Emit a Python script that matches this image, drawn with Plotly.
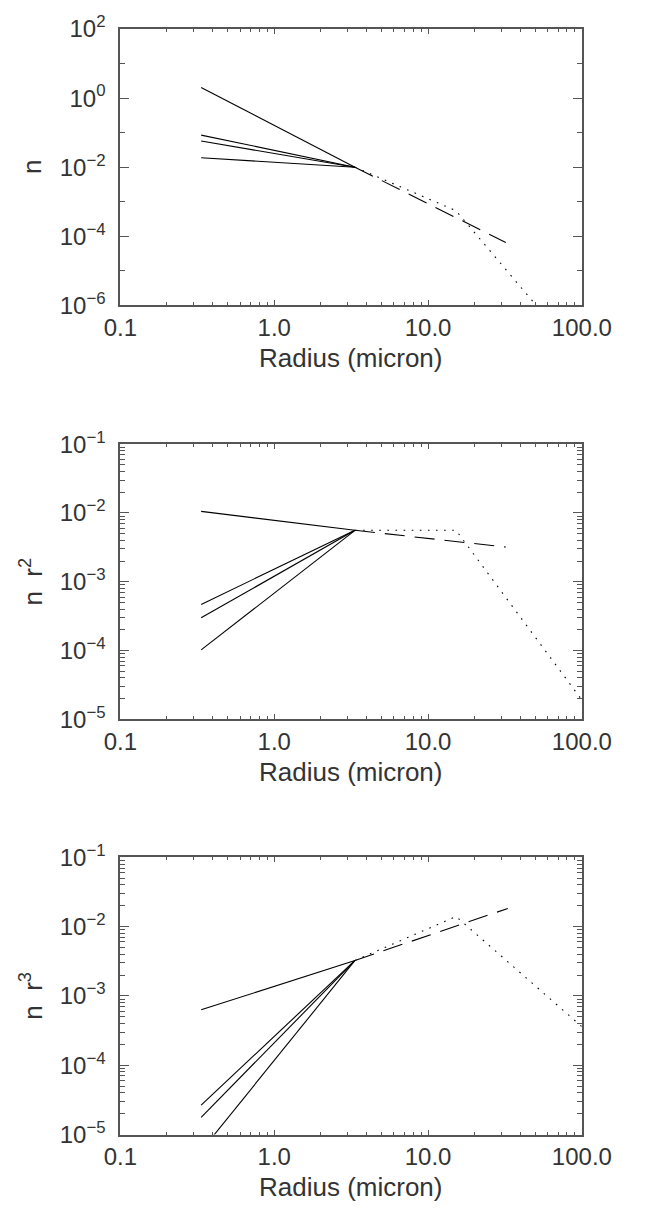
import plotly.graph_objects as go

# ---- data -------------------------------------------------------------
# radii (micron) of the segment end points
R_SOLID = [0.335, 3.35]          # small-grain power laws
R_DASH = [3.35, 32.0]            # single power law continuation
R_DOT = [3.35, 15.2, 100.0]      # broken power law

# panel 1: n
N_SOLID_START = [2.04, 0.085, 0.0575, 0.0187]
N_JUNCTION = 0.0100
N_DASH = [0.0100, 6.6e-5]
N_DOT_R = [3.35, 15.2, 50.5]
N_DOT = [0.0100, 5.5e-4, 1.0e-6]

# panel 2: n r^2
NR2_SOLID_START = [1.057e-2, 4.68e-4, 2.99e-4, 1.02e-4]
NR2_JUNCTION = 5.6e-3
NR2_DASH = [5.6e-3, 3.2e-3]
NR2_DOT = [5.6e-3, 5.6e-3, 1.9e-5]

# panel 3: n r^3
NR3_SOLID_START = [6.3e-4, 2.65e-5, 1.77e-5, 5.8e-6]
NR3_JUNCTION = 3.25e-3
NR3_DASH_R = [3.35, 33.0]
NR3_DASH = [3.25e-3, 1.83e-2]
NR3_DOT = [3.25e-3, 1.4e-2, 3.6e-4]

X_TICKS = [0.1, 1.0, 10.0, 100.0]
X_TICKTEXT = ["0.1", "1.0", "10.0", "100.0"]

# ---- styling ----------------------------------------------------------
W, H = 645, 1220
FONT = "Liberation Sans"
TXT = "#333333"
AX = "#555555"
LINE_W = 1.1
DASH_PAT = "20px,10px"
DOT_PAT = "1.6px,6.5px"
TICK_SIZE = 24
TITLE_SIZE = 26

X0, X1 = 111.5, 609.3
PANELS = [(12.3, 295.7), (438.0, 720.0), (861.5, 1145.7)]


def py(p):
    return 1 - p / H


fig = go.Figure()


def add_panel(i, solid_start, junction, dash_r, dash_v, dot_r, dot_v):
    xa = "x" if i == 0 else f"x{i + 1}"
    ya = "y" if i == 0 else f"y{i + 1}"
    for v0 in solid_start:
        fig.add_trace(go.Scatter(x=R_SOLID, y=[v0, junction], mode="lines",
                                 line=dict(color="black", width=LINE_W),
                                 xaxis=xa, yaxis=ya, showlegend=False))
    fig.add_trace(go.Scatter(x=dash_r, y=dash_v, mode="lines",
                             line=dict(color="black", width=LINE_W, dash=DASH_PAT),
                             xaxis=xa, yaxis=ya, showlegend=False))
    fig.add_trace(go.Scatter(x=dot_r, y=dot_v, mode="lines",
                             line=dict(color="black", width=LINE_W, dash=DOT_PAT),
                             xaxis=xa, yaxis=ya, showlegend=False))


add_panel(0, N_SOLID_START, N_JUNCTION, R_DASH, N_DASH, N_DOT_R, N_DOT)
add_panel(1, NR2_SOLID_START, NR2_JUNCTION, R_DASH, NR2_DASH, R_DOT, NR2_DOT)
add_panel(2, NR3_SOLID_START, NR3_JUNCTION, NR3_DASH_R, NR3_DASH, R_DOT, NR3_DOT)

x_minor = [m * 10 ** e for e in (-1, 0, 1) for m in range(2, 10)]


def sup(e):
    s = str(e).replace("-", "\u2212")
    return f"10<sup>{s}</sup>"


y_specs = [
    # (exp_lo, exp_hi, labelled every, minor decade digits)
    (-6, 2, 2, False),
    (-5, -1, 1, True),
    (-5, -1, 1, True),
]

layout = dict(
    width=W, height=H, margin=dict(l=0, r=0, t=0, b=0),
    paper_bgcolor="white", plot_bgcolor="white",
    font=dict(family=FONT, color=TXT, size=TICK_SIZE),
    annotations=[],
)

y_titles = ["n", "n  r<sup>2</sup>", "n  r<sup>3</sup>"]

for i, ((top, bot), (elo, ehi, step, dec_minor)) in enumerate(zip(PANELS, y_specs)):
    sfx = "" if i == 0 else str(i + 1)
    layout["xaxis" + sfx] = dict(
        type="log", range=[-1, 2], domain=[X0 / W, X1 / W],
        anchor="y" + sfx, tickmode="array", tickvals=X_TICKS, ticktext=X_TICKTEXT,
        ticks="inside", ticklen=5, tickwidth=1, tickcolor=AX,
        showline=True, linecolor=AX, linewidth=2, mirror="ticks",
        showgrid=False, zeroline=False, ticklabelstandoff=0,
        tickfont=dict(size=TICK_SIZE, color=TXT, family=FONT),
        minor=dict(tickmode="array", tickvals=x_minor, ticks="inside",
                   ticklen=3, tickwidth=1, tickcolor=AX, showgrid=False),
    )
    major = [10.0 ** e for e in range(elo, ehi + 1, step)]
    if dec_minor:
        y_minor = [m * 10.0 ** e for e in range(elo, ehi) for m in range(2, 10)]
    else:
        y_minor = [10.0 ** e for e in range(elo + 1, ehi, 2)]
    layout["yaxis" + sfx] = dict(
        type="log", range=[elo, ehi], domain=[py(bot), py(top)],
        anchor="x" + sfx, tickmode="array", tickvals=major,
        ticktext=[sup(e) for e in range(elo, ehi + 1, step)],
        ticks="inside", ticklen=9, tickwidth=1, tickcolor=AX,
        showline=True, linecolor=AX, linewidth=2, mirror="ticks",
        showgrid=False, zeroline=False, ticklabelstandoff=8,
        tickfont=dict(size=TICK_SIZE, color=TXT, family=FONT),
        minor=dict(tickmode="array", tickvals=y_minor, ticks="inside",
                   ticklen=5, tickwidth=1, tickcolor=AX, showgrid=False),
    )
    layout["annotations"].append(dict(
        text="Radius (micron)", xref="paper", yref="paper",
        x=(X0 + X1) / 2 / W, y=py(bot + 54), xanchor="center", yanchor="middle",
        showarrow=False, font=dict(size=TITLE_SIZE, color=TXT, family=FONT)))
    layout["annotations"].append(dict(
        text=y_titles[i], xref="paper", yref="paper", textangle=-90,
        x=16 / W, y=py((top + bot) / 2), xanchor="center", yanchor="middle",
        showarrow=False, font=dict(size=TITLE_SIZE, color=TXT, family=FONT)))

fig.update_layout(**layout)
# drop the browser's default page margin so the figure sits at the origin
fig.write_html("out.html",
               post_script="document.body.style.margin='0';")
